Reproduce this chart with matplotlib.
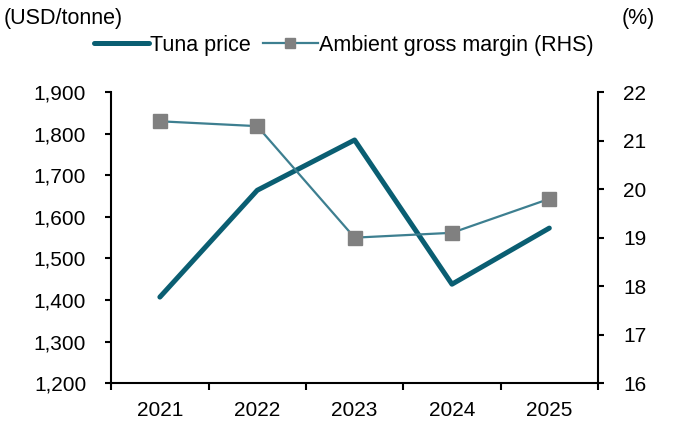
import numpy as np
import matplotlib.pyplot as plt
from matplotlib.ticker import FuncFormatter, FixedLocator

plt.rcParams['font.family'] = ['Liberation Sans', 'DejaVu Sans']

years = ['2021', '2022', '2023', '2024', '2025']
tuna_price = [1407, 1664, 1785, 1438, 1573]
gross_margin = [21.4, 21.3, 19.0, 19.1, 19.8]

x = np.arange(len(years))
fs = 15.5
tfs = 15

fig = plt.figure(figsize=(6.78, 4.21), dpi=100)
ax = fig.add_axes([0.164, 0.090, 0.718, 0.691])
ax2 = ax.twinx()

l1, = ax.plot(x, tuna_price, color='#0a5e72', lw=3.6, solid_capstyle='round', zorder=3)
l2, = ax2.plot(x, gross_margin, color='#3d7f90', lw=1.6, marker='s', markersize=10,
               markerfacecolor='#808080', markeredgecolor='#808080', zorder=2)

ax.set_xlim(-0.5, 4.5)
ax.set_ylim(1200, 1900)
ax2.set_ylim(16, 22)

ax.set_yticks(np.arange(1200, 1901, 100))
ax.yaxis.set_major_formatter(FuncFormatter(lambda v, p: f'{int(v):,}'))
ax2.set_yticks(np.arange(16, 23, 1))

ax.xaxis.set_major_locator(FixedLocator(np.arange(-0.5, 4.6, 1)))
ax.xaxis.set_minor_locator(FixedLocator(x))
ax.set_xticklabels([])
ax.set_xticklabels(years, minor=True)
ax.tick_params(axis='x', which='major', direction='out', length=5, width=1.5)
ax.tick_params(axis='x', which='minor', length=0, pad=13, labelsize=tfs)
ax.tick_params(axis='y', direction='out', length=4, width=1.5, labelsize=tfs, pad=14)
ax2.tick_params(axis='y', direction='out', length=4, width=1.5, labelsize=tfs, pad=14)

for a in (ax, ax2):
    a.spines['top'].set_visible(False)
    for s in ('left', 'right', 'bottom'):
        a.spines[s].set_linewidth(1.5)
ax2.spines['left'].set_visible(False)
ax2.spines['bottom'].set_visible(False)
ax.spines['right'].set_visible(False)

fig.text(0.006, 0.955, '(USD/tonne)', fontsize=fs, ha='left', va='center')
fig.text(0.966, 0.955, '(%)', fontsize=fs, ha='right', va='center')

fig.legend([l1, l2], ['Tuna price', 'Ambient gross margin (RHS)'], loc='center',
           bbox_to_anchor=(0.507, 0.893), ncol=2, frameon=False, fontsize=fs,
           handlelength=2.55, handletextpad=0.05, columnspacing=0.55, markerscale=0.65)

fig.savefig('out.png', dpi=100)
